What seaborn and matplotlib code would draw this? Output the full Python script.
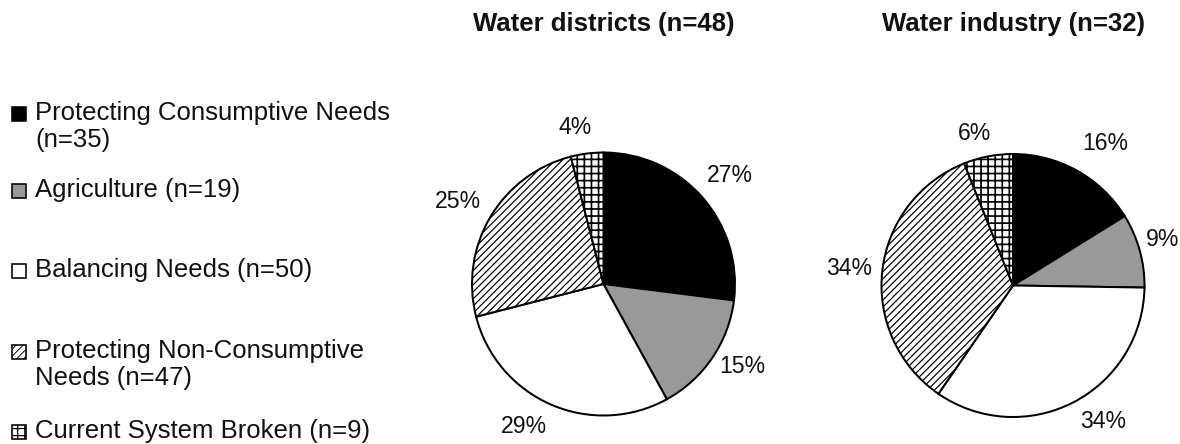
import numpy as np
import matplotlib
matplotlib.use("Agg")
import matplotlib.pyplot as plt
from matplotlib import font_manager
from matplotlib.patches import Rectangle
import seaborn as sns

# ---- data -------------------------------------------------------------
categories = [
    "Protecting Consumptive Needs",
    "Agriculture",
    "Balancing Needs",
    "Protecting Non-Consumptive Needs",
    "Current System Broken",
]
category_counts = [35, 19, 50, 47, 9]
legend_labels = [
    "Protecting Consumptive Needs\n(n=35)",
    "Agriculture (n=19)",
    "Balancing Needs (n=50)",
    "Protecting Non-Consumptive\nNeeds (n=47)",
    "Current System Broken (n=9)",
]

districts_title = "Water districts (n=48)"
districts_pct = [27, 15, 29, 25, 4]

industry_title = "Water industry (n=32)"
industry_pct = [16, 9, 34, 34, 6]

# ---- styling ----------------------------------------------------------
sns.set_theme(style="white")
DPI = 85
W_PX, H_PX = 1180, 444


def pt(px):
    """pixels -> points at the output resolution"""
    return px * 72.0 / DPI


names = {f.name for f in font_manager.fontManager.ttflist}
base_font = "Liberation Sans" if "Liberation Sans" in names else "DejaVu Sans"
plt.rcParams["font.family"] = [base_font, "DejaVu Sans"]
plt.rcParams["hatch.linewidth"] = pt(1.1)
plt.rcParams["hatch.color"] = "black"

fills = ["black", "#999999", "white", "white", "white"]
hatches = [None, None, None, "////", "++"]
hatch_widths = [None, None, None, 1.2, 1.7]   # pixels

fig = plt.figure(figsize=(W_PX / DPI, H_PX / DPI), dpi=DPI)
fig.patch.set_facecolor("white")

RADIUS_PX = 131.5
BOX_PX = 300


def set_hatch_width(patch, width_px):
    if width_px is None:
        return
    try:
        patch.set_hatch_linewidth(pt(width_px))
    except AttributeError:
        pass


def pie_axes(cx, cy):
    """Square axes (pixel geometry) whose unit circle has RADIUS_PX."""
    left = (cx - BOX_PX / 2) / W_PX
    bottom = (H_PX - cy - BOX_PX / 2) / H_PX
    ax = fig.add_axes([left, bottom, BOX_PX / W_PX, BOX_PX / H_PX])
    lim = (BOX_PX / 2) / RADIUS_PX
    return ax, lim


def draw_pie(cx, cy, values, title, label_r, label_nudge):
    ax, lim = pie_axes(cx, cy)
    wedges, _ = ax.pie(
        values,
        startangle=90,
        counterclock=False,
        colors=fills,
        hatch=hatches,
        wedgeprops=dict(edgecolor="black", linewidth=pt(2.0)),
    )
    for w, hw in zip(wedges, hatch_widths):
        set_hatch_width(w, hw)
    ax.set_xlim(-lim, lim)
    ax.set_ylim(-lim, lim)
    ax.set_aspect("equal")
    ax.axis("off")

    for w, v, rf, dn in zip(wedges, values, label_r, label_nudge):
        mid = np.deg2rad((w.theta1 + w.theta2) / 2 + dn)
        ax.text(rf * np.cos(mid), rf * np.sin(mid), f"{v}%",
                ha="center", va="center", fontsize=pt(23), color="#111111")

    fig.text(cx / W_PX, 1 - 24 / H_PX, title, ha="center", va="center",
             fontsize=pt(25.8), fontweight="bold", color="#111111")


draw_pie(603.5, 284, districts_pct, districts_title,
         label_r=[1.27, 1.23, 1.24, 1.27, 1.21],
         label_nudge=[-0.7, 3.4, -5.8, 0.9, 3.2])
draw_pie(1013, 285.5, industry_pct, industry_title,
         label_r=[1.29, 1.19, 1.24, 1.25, 1.19],
         label_nudge=[-3.8, 1.5, 6.1, 0.3, 3.3])

# ---- legend (left column) ---------------------------------------------
legend_rows = [114, 191, 271, 352, 432]
legend_hatch_widths = [None, None, None, 0.9, 1.2]
box = 14
for label, color, hatch, hw, yc in zip(legend_labels, fills, hatches,
                                        legend_hatch_widths, legend_rows):
    rect = Rectangle(
        (12 / W_PX, (H_PX - yc - box / 2) / H_PX),
        box / W_PX, box / H_PX,
        transform=fig.transFigure,
        facecolor=color, edgecolor="black", linewidth=pt(1.6),
        hatch=hatch,
    )
    set_hatch_width(rect, hw)
    fig.add_artist(rect)
    fig.text(35 / W_PX, (H_PX - yc + 13) / H_PX, label,
             ha="left", va="top", fontsize=pt(25.8), color="#111111",
             linespacing=1.15)

fig.savefig("out.png", dpi=DPI, facecolor="white")
